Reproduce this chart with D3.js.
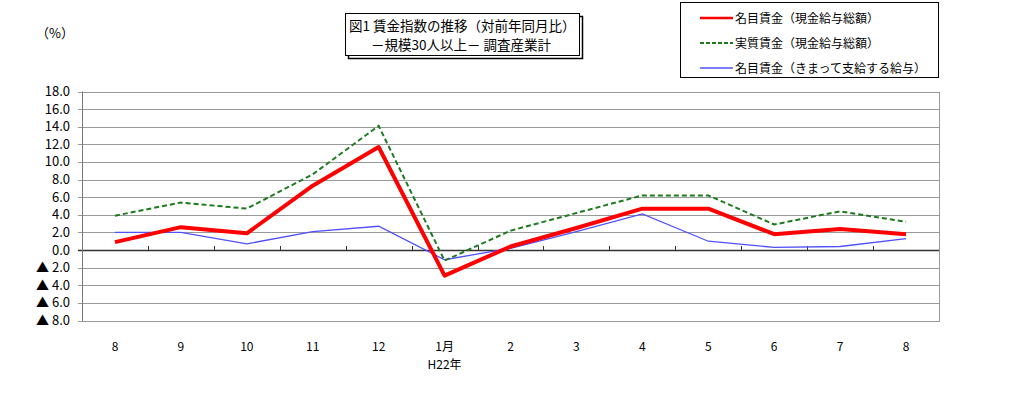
<!DOCTYPE html>
<html><head><meta charset="utf-8">
<script src="https://cdn.jsdelivr.net/npm/d3@7"></script>
<style>
body{margin:0;background:#fff;}
text{font-family:"Noto Sans CJK JP","Liberation Sans",sans-serif;}
</style></head>
<body><svg id="c" width="1023" height="405"></svg>
<script>
const categories = ["8","9","10","11","12","1月","2","3","4","5","6","7","8"];
const categorySub = ["","","","","","H22年","","","","","","",""];
const nominalTotal = [0.9, 2.6, 1.9, 7.3, 11.7, -2.9, 0.4, 2.5, 4.7, 4.7, 1.8, 2.4, 1.8];
const realTotal    = [3.9, 5.4, 4.7, 8.6, 14.1, -1.2, 2.2, 4.2, 6.2, 6.2, 2.9, 4.4, 3.2];
const nominalFixed = [2.0, 2.0, 0.7, 2.1, 2.7, -1.1, 0.2, 2.1, 4.1, 1.0, 0.3, 0.4, 1.3];
const yTicks = [18,16,14,12,10,8,6,4,2,0,-2,-4,-6,-8];
const seriesNames = ["名目賃金（現金給与総額）","実質賃金（現金給与総額）","名目賃金（きまって支給する給与）"];
const titleLines = ["図1 賃金指数の推移（対前年同月比）","－規模30人以上－  調査産業計"];

const svg = d3.select("#c");
const L=82, R=939, T=91.5, B=320.5;
const x = d3.scaleBand().domain(d3.range(categories.length)).range([L,R]);
const y = d3.scaleLinear().domain([-8,18]).range([B,T]);

// gridlines
svg.append("g").selectAll("line").data(yTicks).join("line")
  .attr("x1",L-4).attr("x2",R).attr("y1",d=>Math.round(y(d))+0.5).attr("y2",d=>Math.round(y(d))+0.5)
  .attr("stroke",d=>d===0?"#333":"#999").attr("stroke-width",d=>d===0?1.3:1);
// plot border
svg.append("rect").attr("x",L+0.5).attr("y",Math.round(T)+0.5).attr("width",R-L).attr("height",Math.round(B)-Math.round(T))
  .attr("fill","none").attr("stroke","#999");
svg.append("line").attr("x1",L+0.5).attr("x2",L+0.5).attr("y1",T).attr("y2",B).attr("stroke","#777");
// y labels
svg.append("g").selectAll("text").data(yTicks).join("text")
  .attr("x",70).attr("y",d=>y(d)+4.5).attr("text-anchor","end")
  .attr("font-size",13).attr("font-family","Liberation Sans, sans-serif").attr("fill","#000")
  .text(d=>d<0?"▲ "+Math.abs(d).toFixed(1):d.toFixed(1));
// x ticks on zero line
svg.append("g").selectAll("line").data(d3.range(1,categories.length)).join("line")
  .attr("x1",i=>Math.round(x(i))+0.5).attr("x2",i=>Math.round(x(i))+0.5)
  .attr("y1",Math.round(y(0))).attr("y2",Math.round(y(0))-4).attr("stroke","#333");
// x labels
const cx = i=>x(i)+x.bandwidth()/2;
svg.append("g").selectAll("text").data(categories).join("text")
  .attr("x",(d,i)=>cx(i)).attr("y",351).attr("text-anchor","middle").attr("font-size",12).text(d=>d);
svg.append("g").selectAll("text").data(categorySub).join("text")
  .attr("x",(d,i)=>cx(i)).attr("y",369).attr("text-anchor","middle").attr("font-size",12).text(d=>d);

const line = d3.line().x((d,i)=>cx(i)).y(d=>y(d));
svg.append("path").datum(nominalFixed).attr("d",line).attr("fill","none").attr("stroke","#5050ff").attr("stroke-width",1.3);
svg.append("path").datum(realTotal).attr("d",line).attr("fill","none").attr("stroke","#1e7a1e").attr("stroke-width",2).attr("stroke-dasharray","5,3");
svg.append("path").datum(nominalTotal).attr("d",line).attr("fill","none").attr("stroke","#ff0000").attr("stroke-width",4).attr("stroke-linejoin","round");

// (%)
svg.append("text").attr("x",36).attr("y",38).attr("font-size",13).text("（%）");

// title box
svg.append("rect").attr("x",348.5).attr("y",16.5).attr("width",234).attr("height",42).attr("fill","none").attr("stroke","#000").attr("stroke-width",1.5);
svg.append("rect").attr("x",345.5).attr("y",13.5).attr("width",234).attr("height",42).attr("fill","#fff").attr("stroke","#000");
svg.append("text").attr("x",349).attr("y",31).attr("font-size",13.5).text(titleLines[0]);
svg.append("text").attr("x",371).attr("y",50).attr("font-size",13.5).text(titleLines[1]);

// legend
svg.append("rect").attr("x",680.5).attr("y",2.5).attr("width",258).attr("height",75).attr("fill","#fff").attr("stroke","#000");
const legY=[18,43,68];
const styles=[{c:"#ff0000",w:2.5,d:null},{c:"#1e7a1e",w:2,d:"4,2"},{c:"#5050ff",w:1.3,d:null}];
seriesNames.forEach((n,i)=>{
  svg.append("line").attr("x1",700).attr("x2",733).attr("y1",legY[i]).attr("y2",legY[i])
    .attr("stroke",styles[i].c).attr("stroke-width",styles[i].w).attr("stroke-dasharray",styles[i].d);
  svg.append("text").attr("x",735).attr("y",legY[i]+4.5).attr("font-size",12).text(n);
});
</script></body></html>
